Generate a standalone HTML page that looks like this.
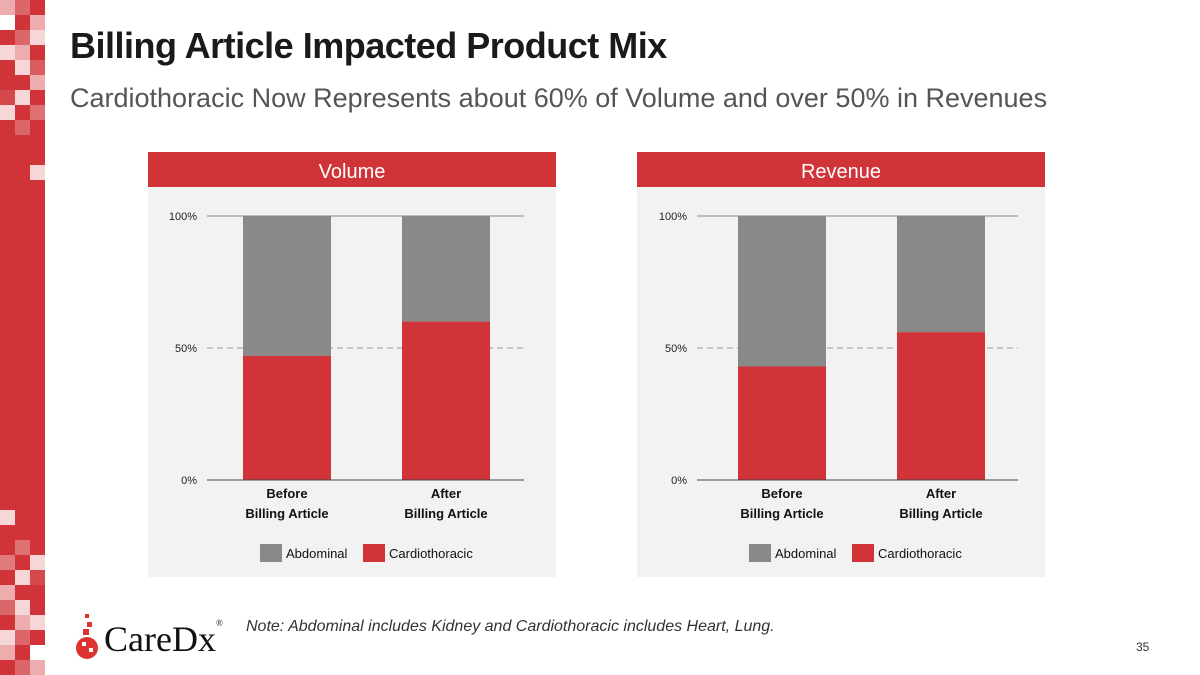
<!DOCTYPE html>
<html><head><meta charset="utf-8"><style>
body{margin:0;width:1200px;height:675px;background:#fff;position:relative;overflow:hidden;font-family:"Liberation Sans",sans-serif}
.t{position:absolute;white-space:nowrap}
</style></head><body>
<svg id="strip" width="46" height="675" style="position:absolute;left:0;top:0"></svg>
<div class="t" style="left:70px;top:25px;font-size:36px;font-weight:bold;color:#1a1a1a;letter-spacing:-0.5px">Billing Article Impacted Product Mix</div>
<div class="t" style="left:70px;top:83px;font-size:27px;color:#555">Cardiothoracic Now Represents about 60% of Volume and over 50% in Revenues</div>
<svg id="charts" width="1200" height="675" style="position:absolute;left:0;top:0"></svg>
<div class="t" style="left:246px;top:618px;font-size:16px;font-style:italic;color:#333">Note: Abdominal includes Kidney and Cardiothoracic includes Heart, Lung.</div>
<div class="t" style="left:1136px;top:640px;font-size:12px;color:#333">35</div>
<div style="position:absolute;left:74px;top:612px;width:160px;height:50px">
<svg width="30" height="50" style="position:absolute;left:0;top:0"><rect x="11" y="2" width="4" height="4" fill="#d33"/><rect x="13" y="10" width="5" height="5" fill="#d33"/><rect x="9" y="17" width="6" height="6" fill="#d33"/><circle cx="13" cy="36" r="11" fill="#d33"/><rect x="8" y="30" width="4" height="4" fill="#fff"/><rect x="15" y="36" width="4" height="4" fill="#fff"/></svg>
<div class="t" style="left:30px;top:6px;font-family:'Liberation Serif',serif;font-size:36px;color:#111">CareDx<span style="font-size:9px;vertical-align:top">®</span></div>
</div>
<script>
const categories=["Before|Billing Article","After|Billing Article"];
const volumeCardio=[47,60];
const revenueCardio=[43,56];
const ticks=[0,50,100];
const legendLabels=["Abdominal","Cardiothoracic"];
const NS="http://www.w3.org/2000/svg";
function mk(p,tag,a){const e=document.createElementNS(NS,tag);for(const k in a)e.setAttribute(k,a[k]);p.appendChild(e);return e;}
const strip=document.getElementById('strip');
mk(strip,'rect',{x:0,y:0,width:45,height:675,fill:'#d13438'});
const cells=[[0,0,.6],[1,0,.25],[0,1,1],[2,1,.6],[1,2,.25],[2,2,.8],[0,3,.8],[1,3,.6],[1,4,.8],[2,4,.2],[2,5,.6],[0,6,.1],[1,6,.8],[0,7,.8],[2,7,.3],[1,8,.25],[2,11,.8],[0,34,.8],[1,36,.3],[0,37,.35],[2,37,.8],[1,38,.8],[2,38,.1],[0,39,.6],[0,40,.25],[1,40,.8],[1,41,.6],[2,41,.8],[0,42,.8],[1,42,.25],[0,43,.6],[2,43,1],[1,44,.25],[2,44,.6]];
cells.forEach(c=>{const r=mk(strip,'rect',{x:c[0]*15,y:c[1]*15,width:15,height:15,fill:'#fff','fill-opacity':c[2]});

});
const svg=document.getElementById('charts');
function chart(px,title,vals,axX0,axX1,barXs){
  const g=mk(svg,'g',{});
  
  
  mk(g,'rect',{x:px,y:152,width:408,height:425,fill:'#f2f2f2'});
  mk(g,'rect',{x:px,y:152,width:408,height:35,fill:'#d13438'});
  const tt=mk(g,'text',{x:px+204,y:178,'text-anchor':'middle','font-size':20,fill:'#fff'});tt.textContent=title;
  
  
  const y=v=>480-v*2.64;
  ticks.forEach(t=>{
    mk(g,'line',{x1:axX0,x2:axX1,y1:y(t),y2:y(t),stroke:t==50?'#999':'#888','stroke-dasharray':t==50?'6,4':'none','stroke-width':1});
    const l=mk(g,'text',{x:axX0-10,y:y(t)+4,'text-anchor':'end','font-size':11,fill:'#222'});l.textContent=t+'%';
    
    
  });
  vals.forEach((v,i)=>{
    const bx=barXs[i];
    const a=mk(g,'rect',{x:bx,y:y(100),width:88,height:y(v)-y(100),fill:'#898989'});
    
    
    const c=mk(g,'rect',{x:bx,y:y(v),width:88,height:y(0)-y(v),fill:'#d13438'});
    
    
    categories[i].split('|').forEach((s,j)=>{const tx=mk(g,'text',{x:bx+44,y:498+j*20,'text-anchor':'middle','font-size':13,'font-weight':'bold',fill:'#111'});tx.textContent=s;
      
      });
  });
  mk(g,'line',{x1:axX0,x2:axX1,y1:480,y2:480,stroke:'#444'});
  const cols=['#898989','#d13438'];const lx=[px+112,px+215];
  legendLabels.forEach((s,i)=>{
    const r=mk(g,'rect',{x:lx[i],y:544,width:22,height:18,fill:cols[i]});
    
    
    const t=mk(g,'text',{x:lx[i]+26,y:558,'font-size':13,fill:'#111'});t.textContent=s;
    
    
  });
}
chart(148,'Volume',volumeCardio,207,524,[243,402]);
chart(637,'Revenue',revenueCardio,697,1018,[738,897]);
</script>
</body></html>
